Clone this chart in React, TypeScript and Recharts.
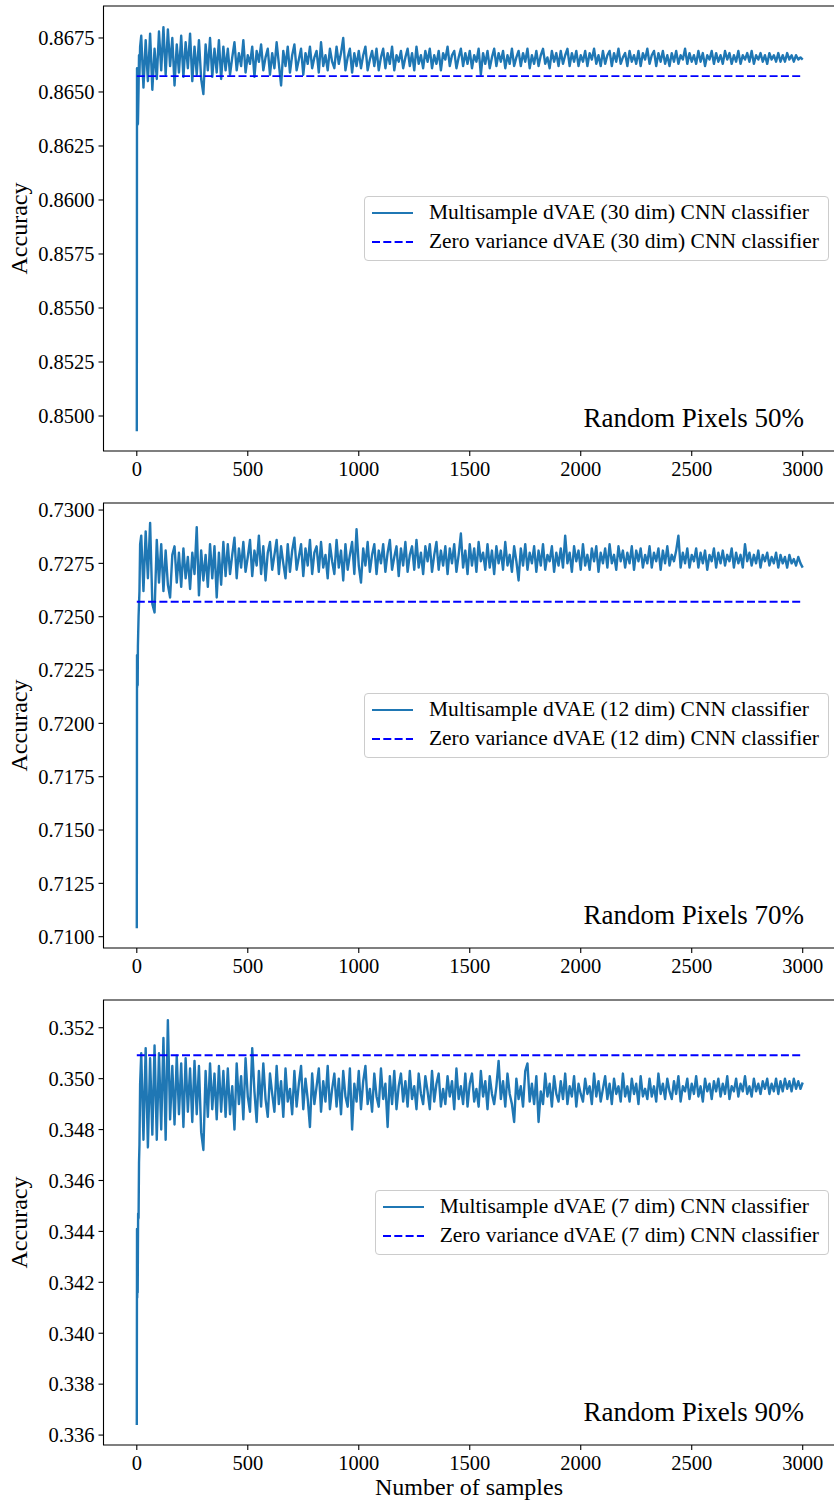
import { LineChart, Line, XAxis, YAxis, ReferenceArea } from "recharts";

const FONT = "'Liberation Serif', 'Times New Roman', serif";

// sample counts (shared by all three runs)
const samples = [
  0, 1, 2, 3, 4, 5, 6, 8, 10, 12, 15,
  20, 30, 40, 50, 60, 70, 80, 90, 100,
  110, 120, 130, 140, 150, 160, 170, 180, 190, 200,
  210, 220, 230, 240, 250, 260, 270, 280, 290, 300,
  310, 320, 330, 340, 350, 360, 370, 380, 390, 400,
  410, 420, 430, 440, 450, 460, 470, 480, 490, 500,
  510, 520, 530, 540, 550, 560, 570, 580, 590, 600,
  610, 620, 630, 640, 650, 660, 670, 680, 690, 700,
  710, 720, 730, 740, 750, 760, 770, 780, 790, 800,
  810, 820, 830, 840, 850, 860, 870, 880, 890, 900,
  910, 920, 930, 940, 950, 960, 970, 980, 990, 1000,
  1010, 1020, 1030, 1040, 1050, 1060, 1070, 1080, 1090, 1100,
  1110, 1120, 1130, 1140, 1150, 1160, 1170, 1180, 1190, 1200,
  1210, 1220, 1230, 1240, 1250, 1260, 1270, 1280, 1290, 1300,
  1310, 1320, 1330, 1340, 1350, 1360, 1370, 1380, 1390, 1400,
  1410, 1420, 1430, 1440, 1450, 1460, 1470, 1480, 1490, 1500,
  1510, 1520, 1530, 1540, 1550, 1560, 1570, 1580, 1590, 1600,
  1610, 1620, 1630, 1640, 1650, 1660, 1670, 1680, 1690, 1700,
  1710, 1720, 1730, 1740, 1750, 1760, 1770, 1780, 1790, 1800,
  1810, 1820, 1830, 1840, 1850, 1860, 1870, 1880, 1890, 1900,
  1910, 1920, 1930, 1940, 1950, 1960, 1970, 1980, 1990, 2000,
  2010, 2020, 2030, 2040, 2050, 2060, 2070, 2080, 2090, 2100,
  2110, 2120, 2130, 2140, 2150, 2160, 2170, 2180, 2190, 2200,
  2210, 2220, 2230, 2240, 2250, 2260, 2270, 2280, 2290, 2300,
  2310, 2320, 2330, 2340, 2350, 2360, 2370, 2380, 2390, 2400,
  2410, 2420, 2430, 2440, 2450, 2460, 2470, 2480, 2490, 2500,
  2510, 2520, 2530, 2540, 2550, 2560, 2570, 2580, 2590, 2600,
  2610, 2620, 2630, 2640, 2650, 2660, 2670, 2680, 2690, 2700,
  2710, 2720, 2730, 2740, 2750, 2760, 2770, 2780, 2790, 2800,
  2810, 2820, 2830, 2840, 2850, 2860, 2870, 2880, 2890, 2900,
  2910, 2920, 2930, 2940, 2950, 2960, 2970, 2980, 2990, 3000,
];

// Random Pixels 50% - multisample dVAE (30 dim)
const acc50 = [
  0.8493, 0.8661, 0.8642, 0.8636, 0.8641, 0.8635, 0.8640, 0.8652, 0.8667, 0.8658, 0.8671,
  0.8676, 0.8652, 0.8674, 0.8655, 0.8677, 0.8651, 0.8670, 0.8656, 0.8678,
  0.8660, 0.8680, 0.8658, 0.8679, 0.8662, 0.8675, 0.8653, 0.8672, 0.8659, 0.8676,
  0.8657, 0.8673, 0.8661, 0.8677, 0.8655, 0.8671, 0.8658, 0.8674, 0.8656, 0.8649,
  0.8672, 0.8660, 0.8675, 0.8657, 0.8670, 0.8659, 0.8674, 0.8656, 0.8671, 0.8660,
  0.8670, 0.8658, 0.8666, 0.8673, 0.8660, 0.8668, 0.8662, 0.8674, 0.8659, 0.8667,
  0.8663, 0.8671, 0.8657, 0.8669, 0.8664, 0.8672, 0.8660, 0.8666, 0.8670, 0.8658,
  0.8668, 0.8661, 0.8673, 0.8663, 0.8653, 0.8669, 0.8662, 0.8671, 0.8659, 0.8667,
  0.8672, 0.8660, 0.8665, 0.8670, 0.8658, 0.8668, 0.8663, 0.8671, 0.8661, 0.8666,
  0.8669, 0.8659, 0.8673, 0.8662, 0.8667, 0.8660, 0.8670, 0.8664, 0.8661, 0.8671,
  0.8663, 0.8668, 0.8675, 0.8660, 0.8666, 0.8670, 0.8659, 0.8668, 0.8662, 0.8669,
  0.8661, 0.8667, 0.8671, 0.8660, 0.8665, 0.8669, 0.8662, 0.8670, 0.8660, 0.8666,
  0.8670, 0.8661, 0.8668, 0.8663, 0.8671, 0.8660, 0.8667, 0.8664, 0.8669, 0.8661,
  0.8666, 0.8670, 0.8662, 0.8668, 0.8660, 0.8671, 0.8663, 0.8667, 0.8661, 0.8669,
  0.8664, 0.8670, 0.8661, 0.8667, 0.8663, 0.8669, 0.8660, 0.8668, 0.8665, 0.8671,
  0.8662, 0.8667, 0.8669, 0.8661, 0.8666, 0.8670, 0.8662, 0.8668, 0.8663, 0.8669,
  0.8661, 0.8667, 0.8664, 0.8670, 0.8658, 0.8668, 0.8663, 0.8669, 0.8661, 0.8666,
  0.8670, 0.8662, 0.8668, 0.8664, 0.8669, 0.8661, 0.8667, 0.8663, 0.8670, 0.8662,
  0.8666, 0.8669, 0.8662, 0.8668, 0.8664, 0.8670, 0.8661, 0.8667, 0.8663, 0.8669,
  0.8662, 0.8667, 0.8670, 0.8663, 0.8666, 0.8661, 0.8669, 0.8664, 0.8668, 0.8662,
  0.8669, 0.8663, 0.8667, 0.8670, 0.8662, 0.8668, 0.8664, 0.8669, 0.8662, 0.8667,
  0.8664, 0.8669, 0.8662, 0.8668, 0.8665, 0.8670, 0.8663, 0.8667, 0.8662, 0.8669,
  0.8663, 0.8667, 0.8669, 0.8662, 0.8668, 0.8664, 0.8670, 0.8663, 0.8666, 0.8668,
  0.8662, 0.8669, 0.8664, 0.8667, 0.8663, 0.8669, 0.8662, 0.8668, 0.8665, 0.8670,
  0.8663, 0.8667, 0.8669, 0.8662, 0.8668, 0.8664, 0.8669, 0.8663, 0.8667, 0.8662,
  0.8668, 0.8664, 0.8669, 0.8663, 0.8667, 0.8665, 0.8670, 0.8663, 0.8668, 0.8664,
  0.8667, 0.8663, 0.8669, 0.8664, 0.8668, 0.8662, 0.8667, 0.8665, 0.8669, 0.8663,
  0.8668, 0.8664, 0.8667, 0.8663, 0.8669, 0.8665, 0.8668, 0.8663, 0.8667, 0.8664,
  0.8669, 0.8663, 0.8667, 0.8665, 0.8668, 0.8664, 0.8669, 0.8663, 0.8667, 0.8665,
  0.8668, 0.8664, 0.8667, 0.8663, 0.8668, 0.8665, 0.8667, 0.8664, 0.8668, 0.8664,
  0.8667, 0.8664, 0.8668, 0.8665, 0.8667, 0.8664, 0.8667, 0.8665, 0.8666, 0.8665,
];

// Random Pixels 70% - multisample dVAE (12 dim)
const acc70 = [
  0.7104, 0.7232, 0.7217, 0.7230, 0.7218, 0.7236, 0.7241, 0.7250, 0.7256, 0.7262, 0.7284,
  0.7288, 0.7262, 0.7290, 0.7268, 0.7294, 0.7256, 0.7252, 0.7286, 0.7266,
  0.7284, 0.7262, 0.7281, 0.7265, 0.7259, 0.7279, 0.7283, 0.7266, 0.7280, 0.7264,
  0.7282, 0.7268, 0.7278, 0.7263, 0.7280, 0.7270, 0.7292, 0.7260, 0.7281, 0.7267,
  0.7279, 0.7264, 0.7284, 0.7268, 0.7283, 0.7259, 0.7280, 0.7265, 0.7285, 0.7269,
  0.7284, 0.7270, 0.7279, 0.7287, 0.7268, 0.7282, 0.7273, 0.7285, 0.7271, 0.7278,
  0.7286, 0.7269, 0.7281, 0.7274, 0.7288, 0.7270, 0.7283, 0.7267, 0.7280, 0.7285,
  0.7272, 0.7279, 0.7286, 0.7270, 0.7283, 0.7275, 0.7268, 0.7284, 0.7271, 0.7281,
  0.7287, 0.7272, 0.7278, 0.7284, 0.7269, 0.7282, 0.7274, 0.7286, 0.7270, 0.7280,
  0.7283, 0.7271, 0.7285, 0.7273, 0.7279, 0.7268, 0.7284, 0.7276, 0.7270, 0.7286,
  0.7273, 0.7281, 0.7267, 0.7284, 0.7272, 0.7279, 0.7285, 0.7270, 0.7291, 0.7274,
  0.7266, 0.7282, 0.7274, 0.7285, 0.7271, 0.7279, 0.7284, 0.7270, 0.7281, 0.7275,
  0.7284, 0.7271, 0.7280, 0.7286, 0.7272, 0.7278, 0.7283, 0.7269, 0.7282, 0.7274,
  0.7285, 0.7271, 0.7279, 0.7283, 0.7272, 0.7286, 0.7273, 0.7280, 0.7270, 0.7283,
  0.7276, 0.7284, 0.7271, 0.7279, 0.7285, 0.7272, 0.7281, 0.7274, 0.7283, 0.7270,
  0.7282, 0.7275, 0.7284, 0.7271, 0.7279, 0.7289, 0.7273, 0.7281, 0.7270, 0.7284,
  0.7274, 0.7282, 0.7271, 0.7285, 0.7276, 0.7280, 0.7272, 0.7284, 0.7273, 0.7281,
  0.7270, 0.7283, 0.7275, 0.7281, 0.7272, 0.7285, 0.7274, 0.7279, 0.7271, 0.7283,
  0.7276, 0.7267, 0.7282, 0.7274, 0.7284, 0.7272, 0.7280, 0.7275, 0.7283, 0.7271,
  0.7281, 0.7274, 0.7284, 0.7272, 0.7279, 0.7276, 0.7283, 0.7271, 0.7280, 0.7274,
  0.7282, 0.7273, 0.7288, 0.7275, 0.7280, 0.7271, 0.7283, 0.7276, 0.7281, 0.7272,
  0.7284, 0.7274, 0.7279, 0.7272, 0.7282, 0.7276, 0.7283, 0.7271, 0.7280, 0.7275,
  0.7282, 0.7273, 0.7284, 0.7275, 0.7279, 0.7272, 0.7283, 0.7276, 0.7281, 0.7273,
  0.7280, 0.7275, 0.7283, 0.7272, 0.7281, 0.7276, 0.7282, 0.7273, 0.7279, 0.7275,
  0.7283, 0.7273, 0.7280, 0.7276, 0.7282, 0.7272, 0.7281, 0.7275, 0.7283, 0.7274,
  0.7279, 0.7276, 0.7281, 0.7288, 0.7273, 0.7280, 0.7275, 0.7282, 0.7273, 0.7279,
  0.7276, 0.7282, 0.7273, 0.7280, 0.7275, 0.7281, 0.7272, 0.7279, 0.7276, 0.7282,
  0.7273, 0.7280, 0.7275, 0.7281, 0.7274, 0.7279, 0.7276, 0.7282, 0.7273, 0.7280,
  0.7275, 0.7279, 0.7273, 0.7284, 0.7276, 0.7280, 0.7274, 0.7279, 0.7275, 0.7281,
  0.7273, 0.7279, 0.7276, 0.7280, 0.7274, 0.7278, 0.7275, 0.7280, 0.7273, 0.7279,
  0.7275, 0.7278, 0.7273, 0.7279, 0.7275, 0.7277, 0.7274, 0.7278, 0.7275, 0.7273,
];

// Random Pixels 90% - multisample dVAE (7 dim)
const acc90 = [
  0.3364, 0.3441, 0.3414, 0.3438, 0.3416, 0.3432, 0.3447, 0.3445, 0.3467, 0.3474, 0.3498,
  0.3510, 0.3476, 0.3512, 0.3473, 0.3508, 0.3478, 0.3513, 0.3476, 0.3510,
  0.3480, 0.3516, 0.3476, 0.3523, 0.3484, 0.3505, 0.3482, 0.3509, 0.3486, 0.3506,
  0.3481, 0.3508, 0.3487, 0.3504, 0.3483, 0.3507, 0.3486, 0.3505, 0.3479, 0.3472,
  0.3503, 0.3485, 0.3506, 0.3488, 0.3502, 0.3484, 0.3505, 0.3487, 0.3503, 0.3485,
  0.3504, 0.3486, 0.3497, 0.3480, 0.3506, 0.3490, 0.3501, 0.3484, 0.3508, 0.3493,
  0.3487, 0.3512, 0.3495, 0.3483, 0.3503, 0.3489, 0.3506, 0.3492, 0.3485, 0.3502,
  0.3494, 0.3487, 0.3505, 0.3490, 0.3499, 0.3485, 0.3504, 0.3491, 0.3496, 0.3486,
  0.3503, 0.3489, 0.3498, 0.3505, 0.3488, 0.3500, 0.3492, 0.3481, 0.3502, 0.3490,
  0.3497, 0.3504, 0.3487, 0.3499, 0.3491, 0.3505, 0.3488, 0.3496, 0.3502, 0.3489,
  0.3500, 0.3486, 0.3503, 0.3493, 0.3489, 0.3504, 0.3480, 0.3498, 0.3491, 0.3503,
  0.3488, 0.3499, 0.3505, 0.3490, 0.3496, 0.3487, 0.3502, 0.3493, 0.3489, 0.3504,
  0.3492, 0.3498, 0.3481, 0.3501, 0.3490, 0.3503, 0.3488, 0.3497, 0.3502, 0.3491,
  0.3499, 0.3489, 0.3503, 0.3492, 0.3497, 0.3488, 0.3502, 0.3494, 0.3490, 0.3501,
  0.3495, 0.3488, 0.3503, 0.3491, 0.3498, 0.3502, 0.3489, 0.3496, 0.3490, 0.3501,
  0.3493, 0.3499, 0.3488, 0.3504, 0.3492, 0.3497, 0.3490, 0.3502, 0.3489, 0.3498,
  0.3502, 0.3491, 0.3496, 0.3489, 0.3503, 0.3493, 0.3499, 0.3488, 0.3501, 0.3494,
  0.3490, 0.3497, 0.3507, 0.3492, 0.3499, 0.3489, 0.3502, 0.3494, 0.3490, 0.3483,
  0.3500, 0.3492, 0.3497, 0.3489, 0.3503, 0.3506, 0.3491, 0.3498, 0.3490, 0.3501,
  0.3483, 0.3495, 0.3490, 0.3502, 0.3493, 0.3498, 0.3489, 0.3501, 0.3494, 0.3491,
  0.3499, 0.3492, 0.3502, 0.3490, 0.3497, 0.3493, 0.3501, 0.3489, 0.3498, 0.3494,
  0.3491, 0.3500, 0.3494, 0.3497, 0.3490, 0.3502, 0.3493, 0.3499, 0.3491, 0.3496,
  0.3501, 0.3492, 0.3498, 0.3490, 0.3500, 0.3494, 0.3497, 0.3491, 0.3502, 0.3493,
  0.3497, 0.3491, 0.3500, 0.3494, 0.3498, 0.3490, 0.3501, 0.3493, 0.3496, 0.3492,
  0.3500, 0.3493, 0.3497, 0.3491, 0.3502, 0.3494, 0.3498, 0.3492, 0.3500, 0.3495,
  0.3492, 0.3499, 0.3494, 0.3501, 0.3491, 0.3497, 0.3495, 0.3500, 0.3492, 0.3498,
  0.3494, 0.3501, 0.3493, 0.3497, 0.3491, 0.3500, 0.3495, 0.3498, 0.3492, 0.3499,
  0.3495, 0.3500, 0.3493, 0.3498, 0.3494, 0.3501, 0.3492, 0.3497, 0.3495, 0.3500,
  0.3493, 0.3498, 0.3495, 0.3501, 0.3494, 0.3497, 0.3493, 0.3500, 0.3495, 0.3498,
  0.3494, 0.3499, 0.3496, 0.3500, 0.3494, 0.3498, 0.3495, 0.3500, 0.3494, 0.3499,
  0.3495, 0.3500, 0.3496, 0.3499, 0.3495, 0.3500, 0.3496, 0.3499, 0.3496, 0.34985,
];

// zero variance baselines
const zeroVar50 = 0.86573;
const zeroVar70 = 0.7257;
const zeroVar90 = 0.35092;

const xTicks = [0, 500, 1000, 1500, 2000, 2500, 3000];
const yTicks50 = [0.85, 0.8525, 0.855, 0.8575, 0.86, 0.8625, 0.865, 0.8675];
const yTicks70 = [0.71, 0.7125, 0.715, 0.7175, 0.72, 0.7225, 0.725, 0.7275, 0.73];
const yTicks90 = [0.336, 0.338, 0.34, 0.342, 0.344, 0.346, 0.348, 0.35, 0.352];

const tickStyle = { fontSize: 20.5, fill: "#000", fontFamily: FONT };

const LegendBox = ({ dim, top }: { dim: string; top: number }) => (
  <div
    style={{
      position: "absolute",
      top,
      right: 5,
      background: "rgba(255,255,255,0.8)",
      border: "1px solid #cccccc",
      borderRadius: 4,
      padding: "1px 9px 3px 7px",
      fontFamily: FONT,
      fontSize: 21.5,
      color: "#000",
      lineHeight: "29.4px",
      whiteSpace: "nowrap",
    }}
  >
    <div style={{ display: "flex", alignItems: "center" }}>
      <svg width={41} height={4}>
        <line x1={0} y1={2} x2={41} y2={2} stroke="#1f77b4" strokeWidth={1.8} />
      </svg>
      <span style={{ marginLeft: 16 }}>Multisample dVAE ({dim} dim) CNN classifier</span>
    </div>
    <div style={{ display: "flex", alignItems: "center" }}>
      <svg width={41} height={4}>
        <line x1={0} y1={2} x2={41} y2={2} stroke="#0000ff" strokeWidth={1.8} strokeDasharray="8 3.3" />
      </svg>
      <span style={{ marginLeft: 16 }}>Zero variance dVAE ({dim} dim) CNN classifier</span>
    </div>
  </div>
);

interface PanelProps {
  acc: number[];
  zero: number;
  yTicks: number[];
  domain: [number, number];
  digits: number;
  top: number;
}

const Panel = ({ acc, zero, yTicks, domain, digits, top }: PanelProps) => {
  const data = samples.map((s, i) => ({ sample: s, acc: acc[i] }));
  const zeroData = [
    { sample: 0, zero },
    { sample: 3000, zero },
  ];
  return (
    <div style={{ position: "absolute", left: 0, top }}>
      <LineChart width={836} height={491} margin={{ top: 6, right: 0, bottom: 0, left: 0 }}>
        <XAxis
          type="number"
          dataKey="sample"
          domain={[-150, 3150]}
          ticks={xTicks}
          interval={0}
          allowDataOverflow
          height={40}
          axisLine={false}
          tickSize={5}
          tickMargin={5}
          tickLine={{ stroke: "#000", strokeWidth: 1.1 }}
          tick={tickStyle}
        />
        <YAxis
          type="number"
          domain={domain}
          ticks={yTicks}
          interval={0}
          allowDataOverflow
          width={103.5}
          axisLine={false}
          tickSize={5}
          tickMargin={4}
          tickLine={{ stroke: "#000", strokeWidth: 1.1 }}
          tick={tickStyle}
          tickFormatter={(v: number) => v.toFixed(digits)}
        />
        <ReferenceArea
          x1={-150}
          x2={3150}
          y1={domain[0]}
          y2={domain[1]}
          fill="none"
          stroke="#000"
          strokeWidth={1.1}
          ifOverflow="visible"
        />
        <Line
          data={data}
          dataKey="acc"
          type="linear"
          stroke="#1f77b4"
          strokeWidth={2.4}
          strokeLinejoin="round"
          dot={false}
          activeDot={false}
          isAnimationActive={false}
        />
        <Line
          data={zeroData}
          dataKey="zero"
          type="linear"
          stroke="#0000ff"
          strokeWidth={1.8}
          strokeDasharray="8 3.3"
          dot={false}
          activeDot={false}
          isAnimationActive={false}
        />
      </LineChart>
    </div>
  );
};

const panelTops = [0, 497, 994];
const rates = ["50%", "70%", "90%"];
const dims = ["30", "12", "7"];

export default function App() {
  return (
    <div
      style={{
        position: "absolute",
        left: 0,
        top: 0,
        width: 834,
        height: 1504,
        overflow: "hidden",
        background: "#fff",
      }}
    >
      <Panel acc={acc50} zero={zeroVar50} yTicks={yTicks50} domain={[0.84838, 0.86898]} digits={4} top={panelTops[0]} />
      <Panel acc={acc70} zero={zeroVar70} yTicks={yTicks70} domain={[0.70947, 0.73033]} digits={4} top={panelTops[1]} />
      <Panel acc={acc90} zero={zeroVar90} yTicks={yTicks90} domain={[0.33561, 0.35309]} digits={3} top={panelTops[2]} />
      {panelTops.map((t, i) => (
        <LegendBox key={i} dim={dims[i]} top={t + 196} />
      ))}
      <svg
        width={834}
        height={1504}
        style={{ position: "absolute", left: 0, top: 0, pointerEvents: "none" }}
        fontFamily={FONT}
      >
        {panelTops.map((t, i) => (
          <g key={i}>
            <text transform={`translate(27, ${t + 228.5}) rotate(-90)`} textAnchor="middle" fontSize={24} fill="#000">
              Accuracy
            </text>
            <text x={804} y={t + 427} textAnchor="end" fontSize={27} fill="#000">
              Random Pixels {rates[i]}
            </text>
          </g>
        ))}
        <text x={469} y={1495} textAnchor="middle" fontSize={24} fill="#000">
          Number of samples
        </text>
      </svg>
    </div>
  );
}
